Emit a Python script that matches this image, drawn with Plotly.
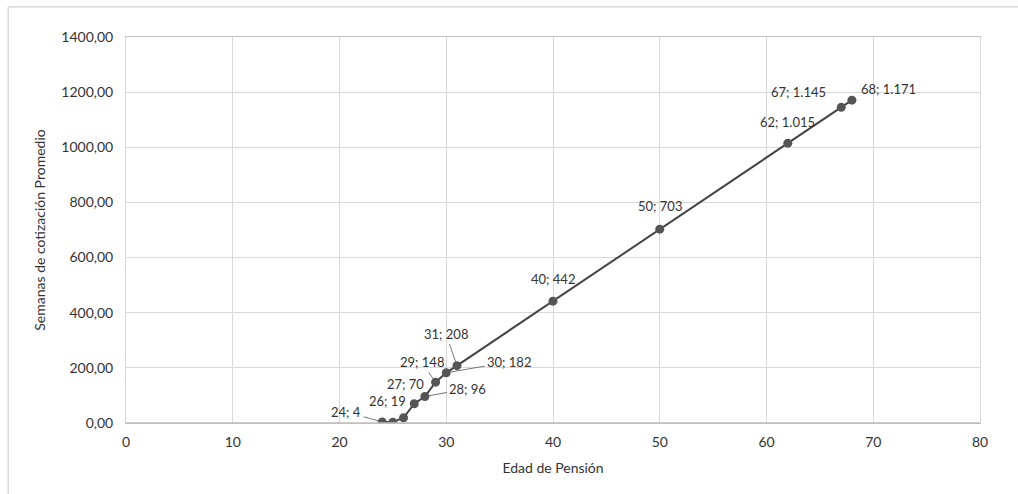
import plotly.graph_objects as go

# Edad de pensión vs. semanas de cotización promedio
edad = [24, 25, 26, 27, 28, 29, 30, 31, 40, 50, 62, 67, 68]
semanas = [4, 3, 19, 70, 96, 148, 182, 208, 442, 703, 1015, 1145, 1171]

x_ticks = [0, 10, 20, 30, 40, 50, 60, 70, 80]
y_ticks = [0, 200, 400, 600, 800, 1000, 1200, 1400]
y_tick_text = [f"{v},00" for v in y_ticks]

FONT = "Lato, 'Open Sans', sans-serif"
TXT = "#333333"


def etiqueta(x, y):
    s = f"{y:,}".replace(",", ".")
    return f"{x}; {s}"


fig = go.Figure()
fig.add_trace(go.Scatter(
    x=edad, y=semanas, mode="lines+markers",
    line=dict(color="#444444", width=2),
    marker=dict(color="#555555", size=9),
    hoverinfo="skip", showlegend=False,
))

# label placement per point: (dx, dy, leader line)
placement = {
    24: (-36, -10, True),
    26: (-16, -17, False),
    27: (-9, -20, False),
    28: (43, -8, True),
    29: (-14, -20, True),
    30: (63, -11, True),
    31: (-11, -32, True),
    40: (0, -22, False),
    50: (0, -23, False),
    62: (0, -21, False),
    67: (-43, -15, False),
    68: (37, -11, False),
}

annotations = []
for x, y in zip(edad, semanas):
    if x not in placement:
        continue
    dx, dy, leader = placement[x]
    base = dict(x=x, y=y, xref="x", yref="y", text=etiqueta(x, y),
                font=dict(family=FONT, size=13, color=TXT))
    if leader:
        annotations.append(dict(base, showarrow=True, ax=dx, ay=dy,
                                arrowhead=0, arrowwidth=1, arrowcolor="#777777",
                                standoff=4, startstandoff=1))
    else:
        annotations.append(dict(base, showarrow=False, xshift=dx, yshift=-dy))

fig.update_layout(
    width=1018, height=494,
    margin=dict(l=126, r=38, t=37, b=71),
    paper_bgcolor="white", plot_bgcolor="white",
    font=dict(family=FONT, size=13, color=TXT),
    annotations=annotations,
    xaxis=dict(
        range=[0, 80], tickvals=x_ticks, ticktext=[str(v) for v in x_ticks],
        showgrid=True, gridcolor="#d9d9d9", gridwidth=1,
        zeroline=False, showline=True, linecolor="#bfbfbf", linewidth=1,
        mirror=True, ticks="outside", ticklen=6, tickcolor="rgba(0,0,0,0)",
        tickfont=dict(size=14, color=TXT),
        title=dict(text="Edad de Pensión", font=dict(size=14, color=TXT), standoff=14),
    ),
    yaxis=dict(
        range=[0, 1400], tickvals=y_ticks, ticktext=y_tick_text,
        showgrid=True, gridcolor="#d9d9d9", gridwidth=1,
        zeroline=False, showline=True, linecolor="#d9d9d9", linewidth=1,
        mirror=True, ticks="outside", ticklen=9, tickcolor="rgba(0,0,0,0)",
        tickfont=dict(size=14, color=TXT),
        title=dict(text="Semanas de cotización Promedio", font=dict(size=14, color=TXT), standoff=12),
    ),
    shapes=[
        dict(type="rect", xref="paper", yref="paper",
             x0=-0.138, x1=1.06, y0=-0.2, y1=1.078,
             line=dict(color="#c8c8c8", width=1), fillcolor="rgba(0,0,0,0)", layer="below"),
        dict(type="line", xref="paper", yref="paper", x0=0, x1=1, y0=0, y1=0,
             line=dict(color="#bfbfbf", width=1.5)),
    ],
)

fig.write_html("out.html")
